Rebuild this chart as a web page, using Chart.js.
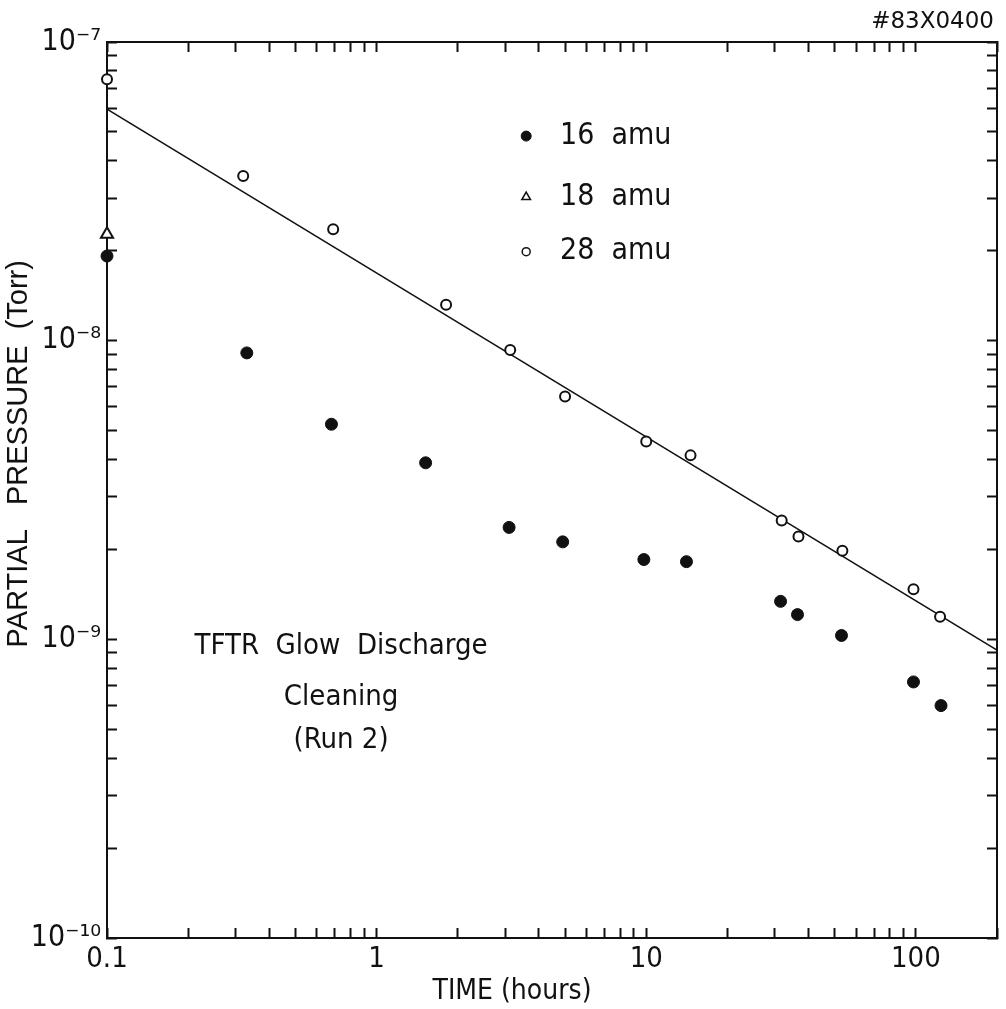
<!DOCTYPE html>
<html>
<head>
<meta charset="utf-8">
<script src="https://cdn.jsdelivr.net/npm/chart.js@4.4.1/dist/chart.umd.min.js"></script>
<style>
  html, body { margin: 0; padding: 0; background: #fff; }
</style>
</head>
<body>
<canvas id="chart" width="1006" height="1009"></canvas>
<script>
// Partial pressure vs time, TFTR glow discharge cleaning (run 2)
const hours16 = [0.1, 0.33, 0.68, 1.52, 3.1, 4.9, 9.8, 14.1, 31.5, 36.4, 53, 98, 124];
const torr16 = [1.92e-8, 9.1e-9, 5.25e-9, 3.9e-9, 2.37e-9, 2.12e-9, 1.85e-9, 1.82e-9, 1.34e-9, 1.21e-9, 1.03e-9, 7.2e-10, 6.0e-10];

const hours18 = [0.1];
const torr18 = [2.27e-8];

const hours28 = [0.1, 0.32, 0.69, 1.81, 3.13, 5.0, 10.0, 14.6, 31.8, 36.7, 53.4, 98, 123];
const torr28 = [7.5e-8, 3.56e-8, 2.36e-8, 1.32e-8, 9.3e-9, 6.5e-9, 4.6e-9, 4.13e-9, 2.5e-9, 2.21e-9, 1.98e-9, 1.47e-9, 1.19e-9];

// straight-line fit through the 28 amu points
const fitHours = [0.1, 200];
const fitTorr = [5.96e-8, 9.2e-10];

const xLabels = ['0.1', '1', '10', '100'];
const seriesNames = ['16 amu', '18 amu', '28 amu'];
const noteLines = ['TFTR  Glow  Discharge', 'Cleaning', '(Run 2)'];
const figId = '#83X0400';

const FONT = "'Liberation Sans Narrow', 'DejaVu Sans Condensed', 'Liberation Sans', sans-serif";
const INK = '#111';

const SUP = { '-': '\u207B', '0': '\u2070', '1': '\u00B9', '2': '\u00B2', '3': '\u00B3', '4': '\u2074',
              '5': '\u2075', '6': '\u2076', '7': '\u2077', '8': '\u2078', '9': '\u2079' };
const sup = n => String(n).split('').map(c => SUP[c]).join('');

const pts = (xs, ys) => xs.map((x, i) => ({ x, y: ys[i] }));

// keep only 1..9 x 10^n ticks (chart.js also adds 1.5 x 10^n)
function integerTicks(scale) {
    scale.ticks = scale.ticks.filter(t => {
        const m = t.value / Math.pow(10, Math.floor(Math.log10(t.value) + 1e-9));
        return Math.abs(m - Math.round(m)) < 1e-6;
    });
}
const isDecade = v => Math.abs(Math.log10(v) - Math.round(Math.log10(v))) < 1e-6;

// fixed axis boxes so the plot frame sits where the original one does
function fixBox(size) {
    return s => {
        if (s.isHorizontal()) s.height = size; else s.width = size;
        s.paddingLeft = s.paddingRight = s.paddingTop = s.paddingBottom = 0;
    };
}

const axisGrid = { drawOnChartArea: false, drawTicks: true, tickLength: -10, tickWidth: 2, color: INK };
const axisBorder = { display: true, color: INK, width: 2 };

const figureText = {
    id: 'figureText',
    afterDraw(chart) {
        const { ctx, chartArea: a } = chart;
        const w = a.right - a.left, h = a.bottom - a.top;
        const px = f => a.left + f * w, py = f => a.top + f * h;
        ctx.save();
        ctx.fillStyle = INK;
        ctx.strokeStyle = INK;
        ctx.textBaseline = 'middle';

        // legend, inside the plot
        const legendY = [0.105, 0.173, 0.234];
        const markers = [
            { pointStyle: 'circle', radius: 5, borderWidth: 1, fill: INK },
            { pointStyle: 'triangle', radius: 5, borderWidth: 1.5, fill: '#fff' },
            { pointStyle: 'circle', radius: 4, borderWidth: 1.5, fill: '#fff' }
        ];
        ctx.font = '30px ' + FONT;
        ctx.textAlign = 'left';
        seriesNames.forEach((name, i) => {
            const m = markers[i];
            ctx.fillStyle = m.fill;
            ctx.lineWidth = m.borderWidth;
            Chart.helpers.drawPoint(ctx, { pointStyle: m.pointStyle, radius: m.radius, rotation: 0, borderWidth: m.borderWidth }, px(0.471), py(legendY[i]));
            ctx.fillStyle = INK;
            ctx.fillText(name.replace(' ', '  '), px(0.509), py(legendY[i]));
        });

        // run note
        ctx.textAlign = 'center';
        ctx.font = '29px ' + FONT;
        const noteY = [0.675, 0.731, 0.779];
        noteLines.forEach((t, i) => ctx.fillText(t, px(0.263), py(noteY[i])));

        // figure id, top right
        ctx.textAlign = 'right';
        ctx.font = "23px 'DejaVu Sans', sans-serif";
        ctx.fillText(figId, 994, 22);
        ctx.restore();
    }
};

new Chart(document.getElementById('chart'), {
    type: 'scatter',
    data: {
        datasets: [
            {
                label: 'fit',
                data: pts(fitHours, fitTorr),
                showLine: true,
                borderColor: INK,
                borderWidth: 1.6,
                pointRadius: 0,
                order: 3
            },
            {
                label: seriesNames[0],
                data: pts(hours16, torr16),
                pointStyle: 'circle',
                pointRadius: 6,
                backgroundColor: INK,
                borderColor: INK,
                borderWidth: 1,
                clip: false,
                order: 1
            },
            {
                label: seriesNames[1],
                data: pts(hours18, torr18),
                pointStyle: 'triangle',
                pointRadius: 7,
                backgroundColor: '#fff',
                borderColor: INK,
                borderWidth: 2,
                clip: false,
                order: 1
            },
            {
                label: seriesNames[2],
                data: pts(hours28, torr28),
                pointStyle: 'circle',
                pointRadius: 5,
                backgroundColor: '#fff',
                borderColor: INK,
                borderWidth: 2,
                clip: false,
                order: 1
            }
        ]
    },
    options: {
        responsive: false,
        animation: false,
        layout: { padding: { top: 42, right: 7, left: 0, bottom: 0 } },
        plugins: { legend: { display: false }, tooltip: { enabled: false } },
        scales: {
            x: {
                type: 'logarithmic',
                position: 'bottom',
                min: 0.1,
                max: 200,
                afterBuildTicks: integerTicks,
                afterFit: fixBox(71),
                grid: axisGrid,
                border: axisBorder,
                ticks: {
                    autoSkip: false,
                    maxRotation: 0,
                    padding: 14,
                    color: INK,
                    font: { family: FONT, size: 29 },
                    callback: v => isDecade(v) ? xLabels[Math.round(Math.log10(v)) + 1] || '' : ''
                },
                title: {
                    display: true,
                    // trailing spaces pull the centred title left, as in the original
                    text: 'TIME (hours)' + ' '.repeat(10),
                    color: INK,
                    font: { family: FONT, size: 28 },
                    padding: { top: 0, bottom: 0 }
                }
            },
            x2: {
                type: 'logarithmic',
                position: 'top',
                min: 0.1,
                max: 200,
                afterBuildTicks: integerTicks,
                afterFit: fixBox(0),
                grid: axisGrid,
                border: axisBorder,
                ticks: { display: false, autoSkip: false }
            },
            y: {
                type: 'logarithmic',
                position: 'left',
                min: 1e-10,
                max: 1e-7,
                afterBuildTicks: integerTicks,
                afterFit: fixBox(107),
                grid: axisGrid,
                border: axisBorder,
                ticks: {
                    autoSkip: false,
                    padding: 16,
                    color: INK,
                    font: { family: FONT, size: 30 },
                    callback: v => isDecade(v) ? '10' + sup(Math.round(Math.log10(v))) : ''
                },
                title: {
                    display: true,
                    // leading spaces push the rotated title upward
                    text: ' '.repeat(9) + 'PARTIAL   PRESSURE  (Torr)',
                    color: INK,
                    font: { family: "'Liberation Sans', sans-serif", size: 29 },
                    padding: { top: 2, bottom: 0 }
                }
            },
            y2: {
                type: 'logarithmic',
                position: 'right',
                min: 1e-10,
                max: 1e-7,
                afterBuildTicks: integerTicks,
                afterFit: fixBox(0),
                grid: axisGrid,
                border: axisBorder,
                ticks: { display: false, autoSkip: false }
            }
        }
    },
    plugins: [figureText]
});
</script>
</body>
</html>
